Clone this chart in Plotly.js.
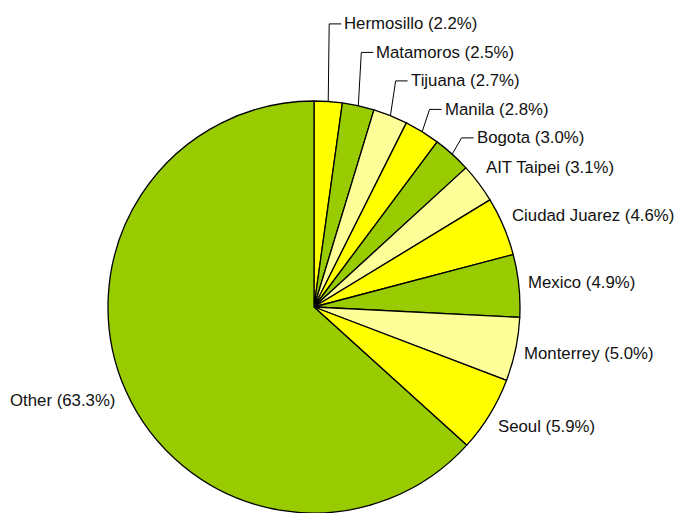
<!DOCTYPE html>
<html>
<head>
<meta charset="utf-8">
<script src="https://cdn.plot.ly/plotly-3.0.1.min.js"></script>
<style>html,body{margin:0;padding:0;background:#fff;}#chart{width:678px;height:513px;}</style>
</head>
<body>
<div id="chart"></div>
<script>
const cities = ["Hermosillo", "Matamoros", "Tijuana", "Manila", "Bogota", "AIT Taipei",
  "Ciudad Juarez", "Mexico", "Monterrey", "Seoul", "Other"];
const shares = [2.2, 2.5, 2.7, 2.8, 3.0, 3.1, 4.6, 4.9, 5.0, 5.9, 63.3];
const palette = ["#FFFF00", "#99CC00", "#FFFF99"];

const W = 678, H = 513;
const cx = 314, cy = 307, R = 206;
const fontSpec = {family: "Liberation Sans, Arial, sans-serif", size: 16.8, color: "#111"};

const total = shares.reduce((a, b) => a + b, 0);
const colors = shares.map((_, i) => palette[i % 3]);

// geometry of slice mid-angles (clockwise from 12 o'clock)
let cum = 0;
const mids = shares.map(v => { const m = (cum + v / 2) / total * 2 * Math.PI; cum += v; return m; });

const px = x => x / W, py = y => 1 - y / H;
const annotations = [], shapes = [];
const labelText = i => cities[i] + " (" + (shares[i] / total * 100).toFixed(1) + "%)";

// right side, from bottom to top, stack crowded labels
const right = mids.map((a, i) => i).filter(i => mids[i] < Math.PI).sort((a, b) => mids[b] - mids[a]);
let prevY = Infinity;
right.forEach(i => {
  const a = mids[i], s = Math.sin(a), c = Math.cos(a);
  const nat = cy - c * (R + 24);
  const crowded = (prevY - nat) < 34;
  const y = crowded ? Math.min(nat, prevY - 30) + 1.5 : nat - 1;
  prevY = y;
  if (crowded) {
    const ex = cx + s * (R + 14);
    const sx = cx + s * R, sy = cy - c * R;
    shapes.push({type: "path", xref: "paper", yref: "paper",
      path: "M" + px(sx) + "," + py(sy) + " L" + px(ex) + "," + py(y) + " L" + px(ex + 12) + "," + py(y),
      line: {color: "#000", width: 1}});
    annotations.push({x: px(ex + 13), y: py(y), xref: "paper", yref: "paper", text: labelText(i),
      showarrow: false, xanchor: "left", yanchor: "middle", font: fontSpec});
  } else {
    annotations.push({x: px(cx + s * (R + 7)), y: py(y), xref: "paper", yref: "paper", text: labelText(i),
      showarrow: false, xanchor: "left", yanchor: "middle", font: fontSpec});
  }
});
// left side
mids.forEach((a, i) => {
  if (a < Math.PI) return;
  const s = Math.sin(a), c = Math.cos(a);
  annotations.push({x: px(cx + s * (R + 9)), y: py(cy - c * (R + 24)), xref: "paper", yref: "paper",
    text: labelText(i), showarrow: false, xanchor: "right", yanchor: "middle", font: fontSpec});
});

const trace = {
  type: "pie", labels: cities, values: shares, sort: false, direction: "clockwise", rotation: 0,
  marker: {colors: colors, line: {color: "#000", width: 1.3}},
  textinfo: "none", hoverinfo: "label+percent", showlegend: false,
  domain: {x: [(cx - R) / W, (cx + R) / W], y: [(H - cy - R) / H, (H - cy + R) / H]}
};

Plotly.newPlot("chart", [trace], {
  width: W, height: H, margin: {l: 0, r: 0, t: 0, b: 0},
  paper_bgcolor: "#fff", plot_bgcolor: "#fff", showlegend: false,
  annotations: annotations, shapes: shapes
}, {displayModeBar: false, staticPlot: true});
</script>
</body>
</html>
